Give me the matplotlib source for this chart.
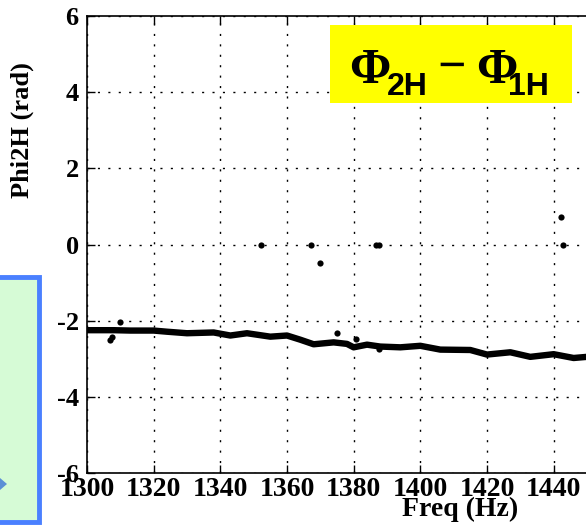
import matplotlib
matplotlib.use("Agg")
import matplotlib.pyplot as plt
from matplotlib.patches import Rectangle, Polygon

plt.rcParams["axes.unicode_minus"] = False

# Main phase-difference trace (Hz, rad)
freq = [1300, 1308, 1313, 1320, 1324, 1330, 1338, 1343, 1348, 1355, 1360,
        1364, 1368, 1374, 1378, 1380, 1384, 1388, 1394, 1400, 1406, 1415,
        1420, 1427, 1433, 1440, 1446, 1450]
phase = [-2.25, -2.25, -2.26, -2.26, -2.29, -2.33, -2.31, -2.39, -2.33, -2.42, -2.39,
         -2.50, -2.62, -2.57, -2.61, -2.70, -2.63, -2.68, -2.70, -2.66, -2.76, -2.77,
         -2.89, -2.83, -2.95, -2.88, -2.98, -2.95]

# Stray points off the trace
out_freq = [1306.9, 1307.4, 1309.9, 1352.1, 1367.2, 1370.0, 1374.9, 1380.7,
            1386.8, 1387.5, 1387.6, 1442.1, 1442.9]
out_phase = [-2.50, -2.43, -2.03, 0.0, 0.0, -0.49, -2.33, -2.48,
             0.0, 0.0, -2.74, 0.72, 0.0]

x_ticks = [1300, 1320, 1340, 1360, 1380, 1400, 1420, 1440]
y_ticks = [-6, -4, -2, 0, 2, 4, 6]

W, H = 586, 528
serif = "Liberation Serif"


def fx(px):
    return px / W


def fy(py):
    return 1 - py / H


fig = plt.figure(figsize=(W / 100, H / 100), dpi=100)
fig.patch.set_facecolor("white")

# Axes run past the right edge, as in the cropped slide
ax = fig.add_axes([fx(87), fy(473), fx(533.3), (473 - 16) / H])
ax.set_xlim(1300, 1460)
ax.set_ylim(-6, 6)

ax.plot(freq, phase, color="black", lw=4.6, solid_joinstyle="round",
        solid_capstyle="round", zorder=3)
ax.scatter(out_freq, out_phase, s=20, color="black", zorder=3, linewidths=0)

ax.set_xticks(x_ticks)
ax.set_yticks(y_ticks)
ax.grid(True, color="black", lw=1.0, linestyle=(0, (1.5, 6)))
ax.tick_params(direction="in", length=6, width=1, top=True, right=True)
for lab in ax.get_xticklabels():
    lab.set_fontfamily(serif)
    lab.set_fontweight("bold")
    lab.set_fontsize(20)
for lab in ax.get_yticklabels():
    lab.set_fontfamily(serif)
    lab.set_fontweight("bold")
    lab.set_fontsize(19)
ax.tick_params(axis="x", pad=3)
ax.tick_params(axis="y", pad=6)
for sp in ax.spines.values():
    sp.set_linewidth(1.2)

ax.set_xlabel("Freq (Hz)", fontfamily=serif, fontweight="bold", fontsize=20)
ax.xaxis.set_label_coords((460 - 87) / 533.3, -24 / 457)
ax.set_ylabel("Phi2H (rad)", fontfamily=serif, fontweight="bold", fontsize=19)
ax.yaxis.label.set_va("center")
ax.yaxis.set_label_coords((22 - 87) / 533.3, (473 - 130) / 457)

# Yellow title box
fig.patches.append(Rectangle((fx(330), fy(103)), fx(242), 78 / H,
                             transform=fig.transFigure, facecolor="#ffff00",
                             edgecolor="none", zorder=5))
big = dict(fontfamily=serif, fontweight="bold", fontsize=36, va="baseline",
           ha="left", zorder=6)
small = dict(fontfamily="Liberation Sans", fontweight="bold", fontsize=23,
             va="baseline", ha="left", zorder=6)
fig.text(fx(349), fy(83), "\u03a6", **big)
fig.text(fx(387), fy(95), "2H", **small)
fig.text(fx(437), fy(81), "\u2212", **big)
fig.text(fx(476), fy(83), "\u03a6", **big)
fig.text(fx(508), fy(95), "1H", **small)

# Green side box from the slide, partly cropped
fig.patches.append(Rectangle((fx(-5), fy(522)), fx(44), 245 / H,
                             transform=fig.transFigure, facecolor="#d6fbd6",
                             edgecolor="#4a80ff", lw=3.5, zorder=5))
fig.patches.append(Polygon([(fx(0), fy(478)), (fx(7), fy(484)), (fx(0), fy(490))],
                           closed=True, transform=fig.transFigure,
                           facecolor="#5b8fd6", edgecolor="none", zorder=6))

fig.savefig("out.png", dpi=100)
